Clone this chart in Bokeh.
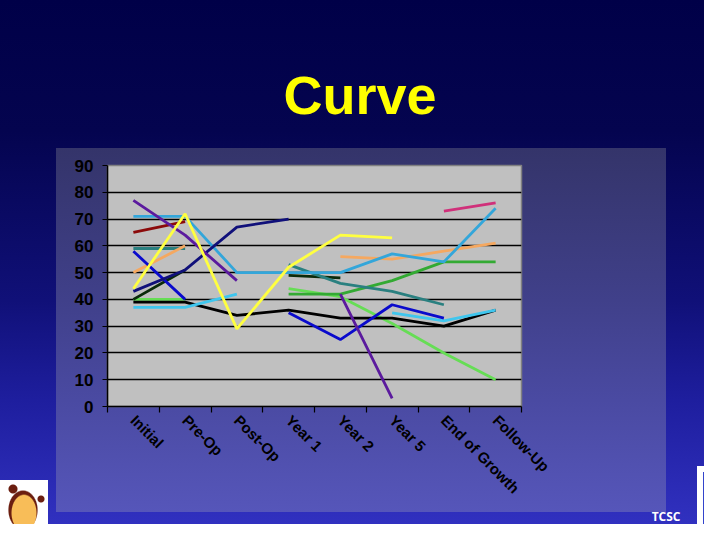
import math
from bokeh.plotting import figure
from bokeh.models import Range1d, FixedTicker, Title
from bokeh.embed import file_html
from bokeh.resources import INLINE

nan = float("nan")

# ---------------- data ----------------
categories = ["Initial", "Pre-Op", "Post-Op", "Year 1", "Year 2", "Year 5",
              "End of Growth", "Follow-Up"]
y_ticks = [0, 10, 20, 30, 40, 50, 60, 70, 80, 90]

purple      = [77, 64, 47, nan, 42, 3, nan, nan]
dark_red    = [65, 69, nan, nan, nan, nan, nan, nan]
sky_blue    = [71, 71, 50, 50, 50, 57, 54, 74]
teal        = [59, 59, nan, 53, 46, 43, 38, nan]
orange      = [50, 60, nan, nan, 56, 55, 58, 61]
yellow      = [44, 72, 29, 52, 64, 63, nan, nan]
navy        = [43, 51, 67, 70, nan, nan, nan, nan]
blue        = [58, 40, nan, 35, 25, 38, 33, nan]
dark_green  = [40, 51, nan, 49, 48, nan, nan, nan]
light_green = [40, 40, nan, 44, 41, 31, 20, 10]
green       = [nan, nan, nan, 42, 42, 47, 54, 54]
black       = [39, 39, 34, 36, 33, 33, 30, 36]
cyan        = [37, 37, 42, nan, nan, 35, 32, 36]
magenta     = [nan, nan, nan, nan, nan, nan, 73, 76]

series = [
    (light_green, "#66DD55"),
    (green, "#33AA33"),
    (dark_green, "#0A2A0A"),
    (black, "#000000"),
    (cyan, "#3FC6EE"),
    (teal, "#2A8080"),
    (orange, "#F5A860"),
    (sky_blue, "#33A6DA"),
    (blue, "#0A0ACC"),
    (navy, "#10107A"),
    (dark_red, "#8B0A0A"),
    (purple, "#5B1A9E"),
    (yellow, "#FFFF40"),
    (magenta, "#D0307A"),
]

# ---------------- page decoration (CSS backgrounds) ----------------
layers = [
    # heart logo (bottom-left)
    ("radial-gradient(circle at 13px 489px, #6B1E10 0, #6B1E10 4px, transparent 5px)", "0 0", "100% 100%"),
    ("radial-gradient(circle at 41px 499px, #6B1E10 0, #6B1E10 3px, transparent 4px)", "0 0", "100% 100%"),
    ("radial-gradient(ellipse 13px 19px at 24px 513px, #F8BD58 0, #F8BD58 92%, transparent 100%)", "0 0", "100% 100%"),
    ("radial-gradient(ellipse 18px 24px at 23px 510px, #6B1E10 0, #6B1E10 78%, transparent 84%)", "0 0", "100% 100%"),
    ("linear-gradient(white, white)", "0px 480px", "48px 60px"),
    # spine image (bottom-right)
    ("linear-gradient(#3344cc, #3344cc)", "703px 472px", "6px 52px"),
    ("linear-gradient(#0000ff, #0000ff)", "697px 526px", "23px 14px"),
    ("linear-gradient(white, white)", "697px 466px", "23px 60px"),
    # chart panel
    ("linear-gradient(to bottom, #34346A 0px, #40408A 152px, #4A4AA2 252px, #5656BA 364px)",
     "56px 148px", "610px 364px"),
    # slide background
    ("linear-gradient(to bottom, #000048 0px, #04044f 130px, #101078 300px, #1e1e9e 400px, #3333c4 540px)",
     "0 0", "100% 100%"),
]
page_styles = {
    "background-image": ", ".join(l[0] for l in layers),
    "background-position": ", ".join(l[1] for l in layers),
    "background-size": ", ".join(l[2] for l in layers),
    "background-repeat": "no-repeat",
}

# ---------------- figure ----------------
W, H = 704, 524
p = figure(width=W, height=H, x_range=Range1d(0, len(categories)),
           y_range=Range1d(0, 90), output_backend="svg", toolbar_location=None,
           min_border_left=107, min_border_right=W - 521, min_border_top=165,
           min_border_bottom=H - 408, styles=page_styles)
NX = len(categories)

p.border_fill_alpha = 0
p.background_fill_color = "#C0C0C0"
p.outline_line_color = "#808080"
p.outline_line_width = 1.5

# title
p.title.text = "Curve"
p.title.align = "left"
p.title.offset = 176
p.title.standoff = 82
p.title.text_font = "Liberation Sans"
p.title.text_font_style = "bold"
p.title.text_font_size = "54px"
p.title.text_color = "#FFFF00"

# grid
p.xgrid.grid_line_color = None
p.ygrid.grid_line_color = "black"
p.ygrid.grid_line_width = 1.3

# axes
font = "Liberation Sans"
p.yaxis.ticker = FixedTicker(ticks=y_ticks, minor_ticks=[])
p.yaxis.major_tick_out = 5
p.yaxis.major_tick_in = 0
p.yaxis.minor_tick_out = 0
p.yaxis.major_label_standoff = 9
p.yaxis.major_label_text_font_size = "17px"

xcenters = [i + 0.5 for i in range(NX)]
p.xaxis.ticker = FixedTicker(ticks=xcenters, minor_ticks=list(range(NX + 1)))
p.xaxis.major_label_overrides = {c: lab for c, lab in zip(xcenters, categories)}
p.xaxis.major_tick_out = 0
p.xaxis.major_tick_in = 0
p.xaxis.minor_tick_out = 6
p.xaxis.minor_tick_in = 0
p.xaxis.major_label_orientation = -math.pi / 4
p.xaxis.major_label_standoff = 5
p.xaxis.major_label_text_font_size = "15px"

for ax in (p.xaxis[0], p.yaxis[0]):
    ax.axis_line_color = "black"
    ax.axis_line_width = 1.5
    ax.major_tick_line_color = "black"
    ax.minor_tick_line_color = "black"
    ax.major_tick_line_width = 1.2
    ax.minor_tick_line_width = 1.2
    ax.major_label_text_font = font
    ax.major_label_text_font_style = "bold"
    ax.major_label_text_color = "black"

# series
for vals, col in series:
    p.line(x=xcenters, y=vals, line_color=col, line_width=2.8)

# footer text "TCSC"
p.add_layout(Title(text="TCSC", align="right", offset=-159, standoff=0,
                   text_font="Open Sans", text_font_style="bold",
                   text_font_size="12px", text_color="white"), "below")

open("out.html", "w").write(file_html(p, INLINE))
